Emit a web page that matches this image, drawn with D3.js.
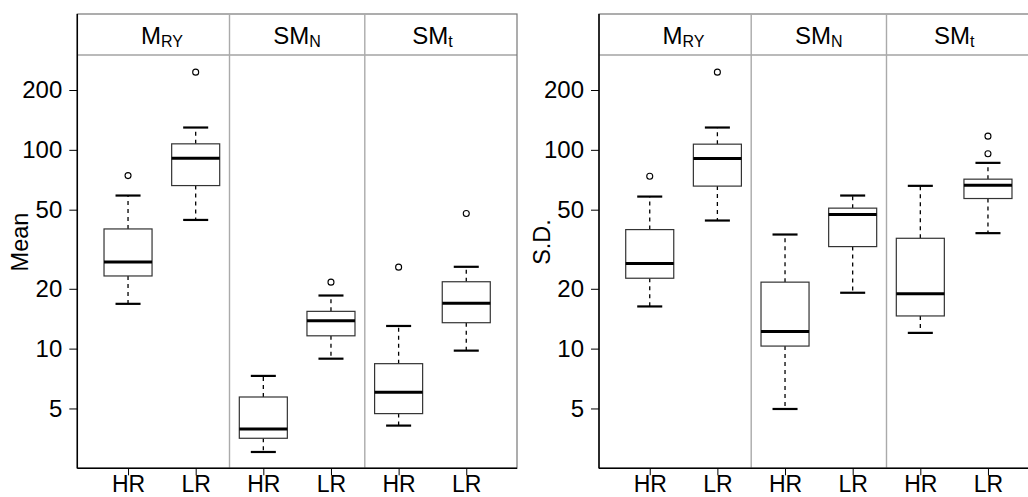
<!DOCTYPE html>
<html>
<head>
<meta charset="utf-8">
<script src="https://cdn.jsdelivr.net/npm/d3@7"></script>
<style>
  html, body { margin: 0; padding: 0; background: #fff; }
  svg { display: block; font-family: "Liberation Sans", Arial, Helvetica, sans-serif; }
</style>
</head>
<body>
<svg id="chart" width="1028" height="497"></svg>
<script>
// ---------------- data ----------------
const groups = ["HR", "LR"];
const facetMain = ["M", "SM", "SM"];
const facetSub = ["RY", "N", "t"];
const yTicks = [5, 10, 20, 50, 100, 200];

// per box: [lower whisker, Q1, median, Q3, upper whisker]; order M_RY HR, M_RY LR, SM_N HR, SM_N LR, SM_t HR, SM_t LR
const meanStats = [
  [16.8, 23.2, 27.3, 40.0, 58.9],
  [44.4, 66.1, 90.8, 107.2, 129.5],
  [3.02, 3.54, 3.94, 5.71, 7.29],
  [8.9, 11.6, 13.8, 15.4, 18.5],
  [4.10, 4.71, 6.03, 8.4, 13.0],
  [9.77, 13.5, 16.9, 21.7, 25.8]
];
const meanOutliers = [[74.2], [246], [], [21.6], [25.7], [47.8]];

const sdStats = [
  [16.3, 22.6, 26.8, 39.7, 58.2],
  [44.1, 65.7, 90.4, 106.8, 129.5],
  [4.97, 10.3, 12.2, 21.6, 37.5],
  [19.1, 32.6, 47.3, 50.9, 58.9],
  [12.0, 14.6, 18.9, 35.9, 65.9],
  [38.1, 56.9, 66.4, 71.2, 86.0]
];
const sdOutliers = [[73.7], [246], [], [], [], [117.2, 95.5]];

const panels = [
  { title: "Mean", stats: meanStats, outliers: meanOutliers, left: 77.3 },
  { title: "S.D.", stats: sdStats, outliers: sdOutliers, left: 599 }
];

// ---------------- layout ----------------
const svg = d3.select("#chart");
const panelW = 439.7;
const stripTop = 14, plotTop = 55, plotBottom = 468.3;
const fontFam = "'Liberation Sans', Arial, Helvetica, sans-serif";

const y = d3.scaleLog().domain([2.5, 300]).range([plotBottom, plotTop]);

panels.forEach(p => {
  const x = d3.scaleLinear().domain([0.25, 6.75]).range([p.left, p.left + panelW]);
  const g = svg.append("g");
  const boxW = x(0.71) - x(0);
  const capW = x(0.37) - x(0);

  // frame (top/right gray)
  g.append("rect")
    .attr("x", x(0.25)).attr("y", stripTop)
    .attr("width", x(6.75) - x(0.25)).attr("height", plotBottom - stripTop)
    .attr("fill", "none").attr("stroke", "#777").attr("stroke-width", 1.2);

  // strip separator
  g.append("line")
    .attr("x1", x(0.25)).attr("x2", x(6.75))
    .attr("y1", plotTop).attr("y2", plotTop)
    .attr("stroke", "#777").attr("stroke-width", 1.2);

  // facet dividers
  [2.5, 4.5].forEach(v => {
    g.append("line")
      .attr("x1", x(v)).attr("x2", x(v))
      .attr("y1", stripTop).attr("y2", plotBottom)
      .attr("stroke", "#aaa").attr("stroke-width", 1.4);
  });

  // strip labels
  facetMain.forEach((m, i) => {
    const t = g.append("text")
      .attr("x", x(2 * i + 1.5)).attr("y", 44.3)
      .attr("text-anchor", "middle")
      .attr("font-size", 24).attr("font-family", fontFam).attr("fill", "#000");
    t.append("tspan").text(m);
    t.append("tspan").attr("font-size", 16).attr("dy", 3).text(facetSub[i]);
  });

  // y axis
  const ya = g.append("g").attr("transform", `translate(${x(0.25)},0)`)
    .call(d3.axisLeft(y).tickValues(yTicks).tickFormat(d3.format("d")).tickSize(8).tickPadding(7));
  ya.select(".domain").remove();
  ya.selectAll("text").attr("font-size", 24).attr("font-family", fontFam).attr("fill", "#000");
  ya.selectAll("line").attr("stroke", "#000");

  // x axis
  const xa = g.append("g").attr("transform", `translate(0,${plotBottom})`)
    .call(d3.axisBottom(x).tickValues([1, 2, 3, 4, 5, 6])
      .tickFormat((d, i) => groups[i % 2]).tickSize(7).tickPadding(0));
  xa.select(".domain").remove();
  xa.selectAll("text").attr("font-size", 23).attr("font-family", fontFam).attr("fill", "#000");
  xa.selectAll("line").attr("stroke", "#000");

  // black axis lines
  g.append("line").attr("x1", x(0.25)).attr("x2", x(0.25))
    .attr("y1", stripTop).attr("y2", plotBottom)
    .attr("stroke", "#000").attr("stroke-width", 1.5);
  g.append("line").attr("x1", x(0.25)).attr("x2", x(6.75))
    .attr("y1", plotBottom).attr("y2", plotBottom)
    .attr("stroke", "#000").attr("stroke-width", 1.5);

  // y title
  g.append("text")
    .attr("transform", `translate(${x(0.25) - 49},242) rotate(-90)`)
    .attr("text-anchor", "middle")
    .attr("font-size", 23.5).attr("font-family", fontFam).attr("fill", "#000")
    .text(p.title);

  // boxes
  p.stats.forEach((s, i) => {
    const cx = x(i + 1);
    const [lo, q1, med, q3, hi] = s;
    const bg = g.append("g");
    // whiskers
    bg.append("line").attr("x1", cx).attr("x2", cx).attr("y1", y(q3)).attr("y2", y(hi))
      .attr("stroke", "#000").attr("stroke-width", 1.3).attr("stroke-dasharray", "4,4");
    bg.append("line").attr("x1", cx).attr("x2", cx).attr("y1", y(q1)).attr("y2", y(lo))
      .attr("stroke", "#000").attr("stroke-width", 1.3).attr("stroke-dasharray", "4,4");
    // caps
    [lo, hi].forEach(v => {
      bg.append("line").attr("x1", cx - capW / 2).attr("x2", cx + capW / 2)
        .attr("y1", y(v)).attr("y2", y(v))
        .attr("stroke", "#000").attr("stroke-width", 2.2);
    });
    // box
    bg.append("rect").attr("x", cx - boxW / 2).attr("width", boxW)
      .attr("y", y(q3)).attr("height", y(q1) - y(q3))
      .attr("fill", "#fff").attr("stroke", "#333").attr("stroke-width", 1.2);
    // median
    bg.append("line").attr("x1", cx - boxW / 2).attr("x2", cx + boxW / 2)
      .attr("y1", y(med)).attr("y2", y(med))
      .attr("stroke", "#000").attr("stroke-width", 3);
    // outliers
    p.outliers[i].forEach(v => {
      bg.append("circle").attr("cx", cx).attr("cy", y(v)).attr("r", 3)
        .attr("fill", "none").attr("stroke", "#000").attr("stroke-width", 1.1);
    });
  });
});
</script>
</body>
</html>
